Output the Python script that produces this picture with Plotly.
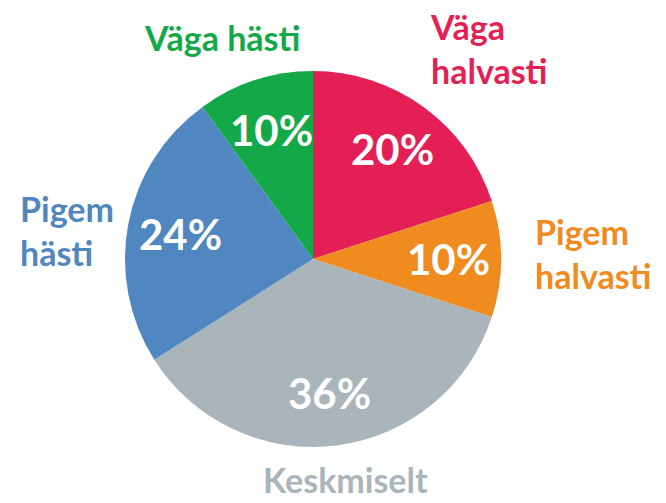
import math
import plotly.graph_objects as go

labels = ["Väga halvasti", "Pigem halvasti", "Keskmiselt", "Pigem hästi", "Väga hästi"]
values = [20, 10, 36, 24, 10]
colors = ["#E31F56", "#F08B1F", "#A9B4BB", "#5087C0", "#14A948"]
label_text = ["Väga<br>halvasti", "Pigem<br>halvasti", "Keskmiselt", "Pigem<br>hästi", "Väga hästi"]

W, H = 666, 503
FONT = "Lato"

# pie geometry in pixels
CX, CY, R = 313, 259, 188

fig = go.Figure(go.Pie(
    labels=labels, values=values, sort=False, direction="clockwise", rotation=0,
    marker=dict(colors=colors, line=dict(width=0)),
    textinfo="none",
    domain=dict(x=[(CX - R) / W, (CX + R) / W], y=[(H - CY - R) / H, (H - CY + R) / H]),
    showlegend=False, hoverinfo="label+percent",
))

# percentage labels placed along each slice's bisector (derived from values)
total = sum(values)
cum = 0
for v in values:
    mid = (cum + v / 2) / total * 2 * math.pi
    cum += v
    px = CX + 0.72 * R * math.sin(mid)
    py = CY - 0.72 * R * math.cos(mid)
    fig.add_annotation(x=px / W, y=1 - py / H, xref="paper", yref="paper",
                       text=f"{round(v / total * 100)}%", showarrow=False,
                       xanchor="center", yanchor="middle",
                       font=dict(family=FONT, size=42, color="white", weight="bold"))

# outside label positions (pixels) and anchors
ann_pos = [
    (428, 48, "left", "middle"),
    (533, 253, "left", "middle"),
    (346, 502, "center", "bottom"),
    (18, 230, "left", "middle"),
    (222, 38, "center", "middle"),
]
for txt, col, (x, y, anchor, yanc) in zip(label_text, colors, ann_pos):
    fig.add_annotation(x=x / W, y=1 - y / H, xref="paper", yref="paper", text=txt,
                       showarrow=False, xanchor=anchor, yanchor=yanc, align=anchor,
                       font=dict(family=FONT, size=34, color=col, weight="bold"))

fig.update_layout(width=W, height=H, margin=dict(l=0, r=0, t=0, b=0),
                  paper_bgcolor="white", plot_bgcolor="white")
fig.write_html("out.html", config={"displayModeBar": False},
               post_script="document.body.style.margin='0';")
